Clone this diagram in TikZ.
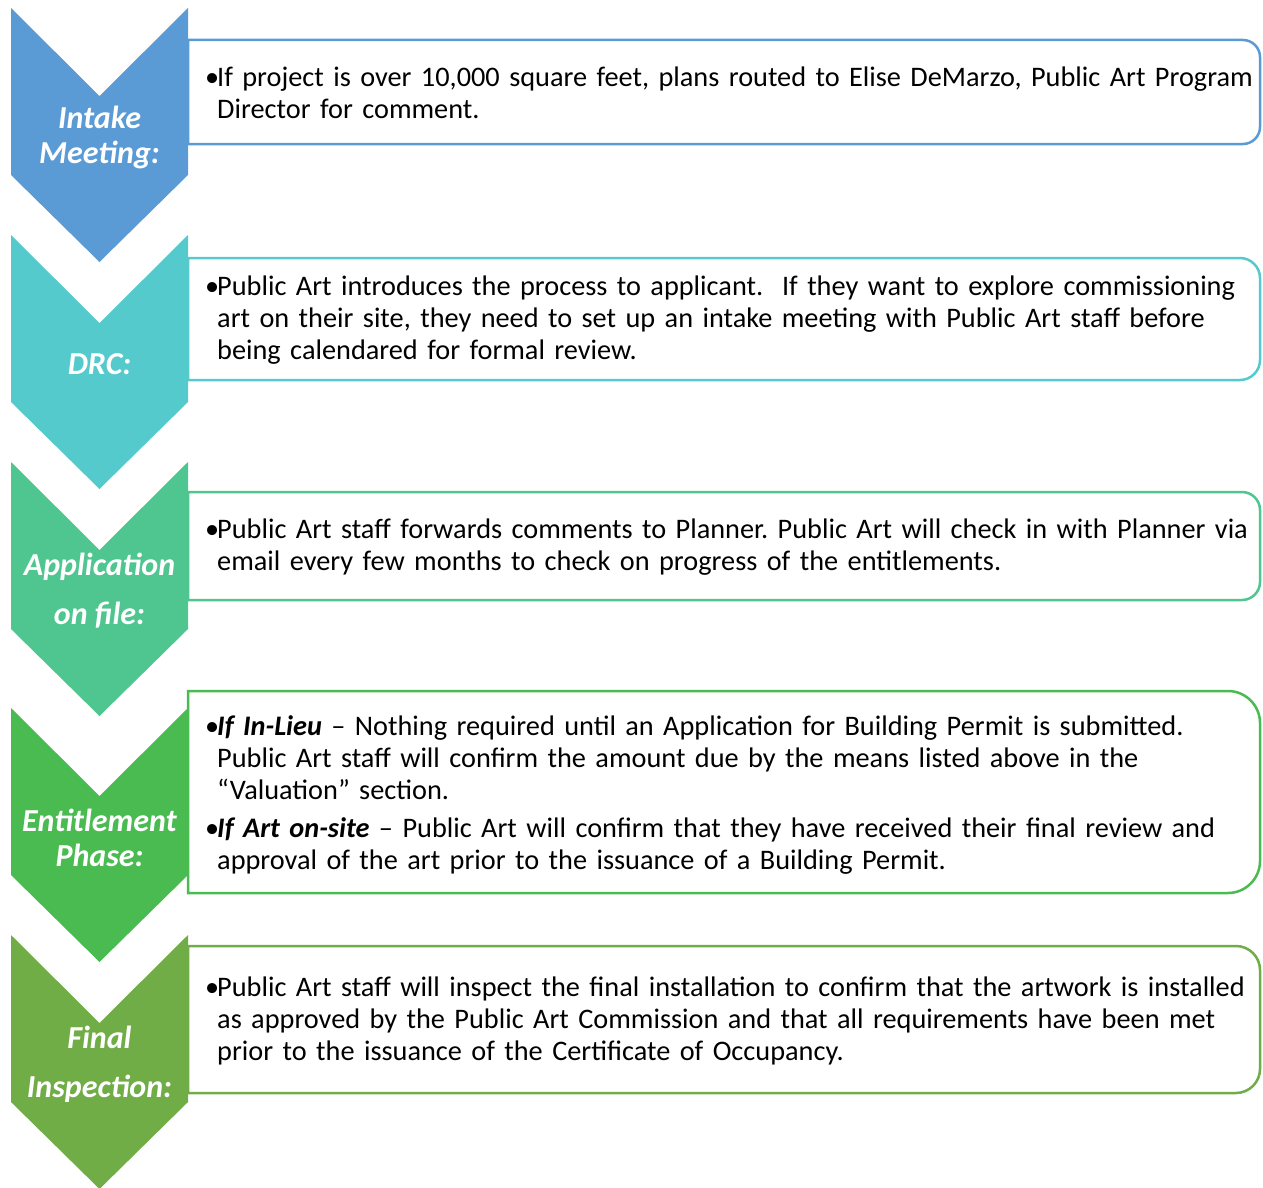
\documentclass[tikz,border=0pt]{standalone}
\usepackage{fontspec}
\setmainfont{Carlito}
\usepackage{tikz}

\definecolor{stepA}{RGB}{91,155,213}
\definecolor{stepB}{RGB}{85,202,204}
\definecolor{stepC}{RGB}{79,197,143}
\definecolor{stepD}{RGB}{73,187,80}
\definecolor{stepE}{RGB}{112,173,71}

\newcommand{\stepitem}{\par\leftskip=12pt\noindent\hspace*{-12pt}\makebox[12pt][l]{\textbullet}}

\tikzset{
    infobox/.style={draw=#1, line width=2.5pt, fill=white},
    steplabel/.style={text=white, align=center, inner sep=0pt,
        font=\fontsize{32}{35}\selectfont\bfseries\itshape},
    steptext/.style={anchor=west, text width=1100pt, inner sep=0pt,
        font=\fontsize{28.3}{32}\selectfont\frenchspacing}
}

\begin{document}
\begin{tikzpicture}[x=1pt,y=-1pt]
        \useasboundingbox (0,0) rectangle (1263,1188);

        % chevrons with their boxes
        \foreach \t/\bt/\bb/\r/\c in {8/40/144/17/stepA, 235/258/380/20/stepB, 462/492/600/18/stepC, 708/691/893/32/stepD, 935/946/1093/24/stepE} {
            \fill[\c] (11,\t) -- (99.5,\t+88) -- (188,\t) -- (188,\t+167) -- (99.5,\t+254) -- (11,\t+167) -- cycle;
            \draw[infobox=\c] (188,\bt) -- (1260-\r,\bt) .. controls (1260-0.45*\r,\bt) and (1260,\bt+0.45*\r) .. (1260,\bt+\r)
                -- (1260,\bb-\r) .. controls (1260,\bb-0.45*\r) and (1260-0.45*\r,\bb) .. (1260-\r,\bb) -- (188,\bb) -- cycle;
        }

        \node[steplabel] (intake) at (99.5,137) {Intake\\Meeting:};
        \node[steplabel] (drc) at (99.5,364.5) {DRC:};
        \node[steplabel] (appfile) at (99.5,591) {Application\\[14pt]on file:};
        \node[steplabel] (entitle) at (99.5,837.5) {Entitlement\\Phase:};
        \node[steplabel] (final) at (99.5,1064) {Final\\[14pt]Inspection:};

        \node[steptext] (intaketext) at (205,87) {\stepitem If project is over 10,000 square feet, plans routed to Elise DeMarzo, Public Art Program\newline Director for comment.\par};
        \node[steptext] (drctext) at (205,314) {\stepitem Public Art introduces the process to applicant.~ If they want to explore commissioning\newline art on their site, they need to set up an intake meeting with Public Art staff before\newline being calendared for formal review.\par};
        \node[steptext] (appfiletext) at (205,541) {\stepitem Public Art staff forwards comments to Planner. Public Art will check in with Planner via\newline email every few months to check on progress of the entitlements.\par};
        \node[steptext] (entitletext) at (205,789) {\stepitem\textbf{\textit{If In-Lieu}} -- Nothing required until an Application for Building Permit is submitted.\newline Public Art staff will confirm the amount due by the means listed above in the\newline “Valuation” section.\par\vspace{6pt}\stepitem\textbf{\textit{If Art on-site}} -- Public Art will confirm that they have received their final review and\newline approval of the art prior to the issuance of a Building Permit.\par};
        \node[steptext] (finaltext) at (205,1014.5) {\stepitem Public Art staff will inspect the final installation to confirm that the artwork is installed\newline as approved by the Public Art Commission and that all requirements have been met\newline prior to the issuance of the Certificate of Occupancy.\par};
\end{tikzpicture}
\end{document}
